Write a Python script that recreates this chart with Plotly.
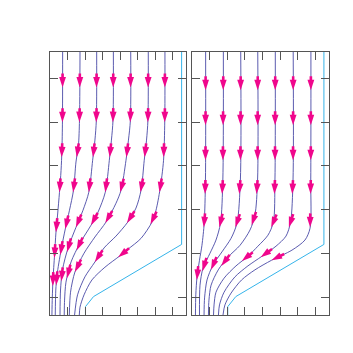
import numpy as np
import plotly.graph_objects as go

# streamlines, left panel (x, y in axis units, flow runs top -> bottom)
left_x = [
    [0.72, 0.71, 0.68, 0.63, 0.54, 0.43, 0.34, 0.26, 0.17, 0.13, 0.11],
    [1.71, 1.68, 1.62, 1.48, 1.34, 1.11, 0.88, 0.63, 0.40, 0.33, 0.30],
    [2.66, 2.64, 2.56, 2.43, 2.21, 1.88, 1.48, 1.03, 0.71, 0.60, 0.57],
    [3.61, 3.59, 3.50, 3.38, 3.15, 2.74, 2.34, 1.71, 1.20, 0.91, 0.83, 0.81],
    [4.60, 4.58, 4.47, 4.33, 4.05, 3.76, 3.19, 2.56, 1.94, 1.42, 1.17, 1.10],
    [5.60, 5.58, 5.50, 5.37, 5.19, 4.90, 4.43, 3.76, 3.08, 2.56, 1.99, 1.57, 1.40],
    [6.55, 6.54, 6.47, 6.27, 6.04, 5.81, 5.19, 4.44, 3.95, 3.13, 2.39, 1.94, 1.71, 1.67],
]
left_y = [
    [6.0, 4.44, 3.76, 3.30, 2.80, 2.28, 1.89, 1.37, 0.80, 0.39, 0.0],
    [6.0, 4.44, 3.87, 3.49, 2.85, 2.39, 1.98, 1.48, 0.91, 0.57, 0.0],
    [6.0, 4.44, 3.99, 3.53, 2.80, 2.39, 2.00, 1.53, 1.03, 0.57, 0.0],
    [6.0, 4.44, 3.99, 3.53, 2.80, 2.35, 2.05, 1.64, 1.21, 0.75, 0.34, 0.0],
    [6.0, 4.44, 3.99, 3.53, 2.85, 2.55, 2.12, 1.78, 1.41, 0.98, 0.52, 0.0],
    [6.0, 4.44, 3.99, 3.53, 2.85, 2.44, 2.12, 1.80, 1.53, 1.21, 0.87, 0.46, 0.0],
    [6.0, 4.44, 3.53, 2.87, 2.39, 2.12, 1.75, 1.50, 1.34, 1.09, 0.80, 0.46, 0.18, 0.0],
]

# streamlines, right panel
right_x = [
    [0.76, 0.75, 0.68, 0.55, 0.41, 0.27, 0.20, 0.18],
    [1.77, 1.74, 1.61, 1.35, 1.01, 0.61, 0.44, 0.41],
    [2.76, 2.74, 2.55, 2.21, 1.69, 1.18, 0.84, 0.70, 0.67],
    [3.73, 3.72, 3.57, 3.29, 2.72, 2.03, 1.48, 1.07, 0.95, 0.92],
    [4.73, 4.71, 4.62, 4.31, 3.74, 3.17, 2.49, 1.81, 1.35, 1.24, 1.21],
    [5.75, 5.74, 5.60, 5.34, 4.77, 3.97, 3.17, 2.43, 1.81, 1.55, 1.49],
    [6.76, 6.75, 6.71, 6.42, 5.68, 4.52, 3.57, 2.81, 2.21, 1.86, 1.75],
]
right_y = [
    [6.0, 3.08, 2.10, 1.59, 1.25, 0.87, 0.46, 0.0],
    [6.0, 3.08, 2.10, 1.71, 1.41, 1.07, 0.68, 0.0],
    [6.0, 3.08, 2.10, 1.75, 1.44, 1.14, 0.80, 0.39, 0.0],
    [6.0, 3.08, 2.28, 1.94, 1.59, 1.32, 1.03, 0.68, 0.34, 0.0],
    [6.0, 3.08, 2.12, 1.82, 1.57, 1.34, 1.12, 0.84, 0.52, 0.23, 0.0],
    [6.0, 3.08, 2.12, 1.80, 1.57, 1.34, 1.12, 0.87, 0.52, 0.23, 0.0],
    [6.0, 3.08, 1.98, 1.71, 1.48, 1.25, 1.03, 0.80, 0.50, 0.23, 0.0],
]

# boundary line (same in both panels)
edge_x = [7.50, 7.50, 2.48, 2.02, 2.02]
edge_y = [6.0, 1.61, 0.42, 0.19, 0.0]

# arrow tip heights along each streamline
left_arrow_y = [
    [5.19, 4.40, 3.60, 2.80, 1.89, 1.30, 0.66],
    [5.19, 4.40, 3.60, 2.80, 1.96, 1.37, 0.68],
    [5.19, 4.40, 3.60, 2.80, 2.00, 1.44, 0.77],
    [5.19, 4.40, 3.60, 2.80, 2.05, 1.48, 0.84],
    [5.19, 4.40, 3.60, 2.80, 2.10, 0.98],
    [5.19, 4.40, 3.60, 2.80, 2.10, 1.21],
    [5.19, 4.40, 3.60, 2.80, 2.07, 1.32],
]
right_arrow_y = [
    [5.13, 4.33, 3.53, 2.76, 2.00, 0.80],
    [5.13, 4.33, 3.53, 2.76, 2.00, 1.00],
    [5.13, 4.33, 3.53, 2.76, 2.00, 1.03],
    [5.13, 4.33, 3.53, 2.76, 2.05, 1.12],
    [5.13, 4.33, 3.53, 2.76, 2.00, 1.23],
    [5.13, 4.33, 3.53, 2.76, 2.00, 1.32],
    [5.13, 4.33, 3.53, 2.76, 2.00, 1.25],
]

LINE_COLOR = "#4848a6"
EDGE_COLOR = "#35b4ea"
ARROW_COLOR = "#f0068c"
AX_COLOR = "#555555"

# pixel scale of one axis unit (used only to orient arrows)
SX, SY = 17.55, 43.9
ARROW_LEN = 14.0
HEAD_LEN = 7.0


def arrow_parts(xs, ys, yt):
    """Tip position, shaft segment and screen angle of one arrow."""
    xs = np.asarray(xs)[::-1]
    ys = np.asarray(ys)[::-1]
    xt = np.interp(yt, ys, xs)
    yb = yt + 0.12
    xb = np.interp(yb, ys, xs)
    dx, dy = (xt - xb) * SX, (yt - yb) * SY
    n = np.hypot(dx, dy)
    ux, uy = dx / n, dy / n
    tail = (xt - ARROW_LEN * ux / SX, yt - ARROW_LEN * uy / SY)
    neck = (xt - HEAD_LEN * ux / SX, yt - HEAD_LEN * uy / SY)
    # marker angle: clockwise from "up" on screen
    angle = float(np.degrees(np.arctan2(ux, uy)))
    return (xt, yt), tail, neck, angle


fig = go.Figure()
panels = [
    (left_x, left_y, left_arrow_y, "x", "y"),
    (right_x, right_y, right_arrow_y, "x2", "y2"),
]
for xs_all, ys_all, arr_all, xr, yr in panels:
    shaft_x, shaft_y, tip_x, tip_y, angles = [], [], [], [], []
    for xs, ys, arr in zip(xs_all, ys_all, arr_all):
        fig.add_trace(go.Scatter(
            x=xs, y=ys, mode="lines", xaxis=xr, yaxis=yr,
            line=dict(color=LINE_COLOR, width=0.9, shape="spline", smoothing=0.8),
            hoverinfo="skip", showlegend=False,
        ))
        for yt in arr:
            tip, tail, neck, ang = arrow_parts(xs, ys, yt)
            shaft_x += [tail[0], neck[0], None]
            shaft_y += [tail[1], neck[1], None]
            tip_x.append(tip[0])
            tip_y.append(tip[1])
            angles.append(ang)
    fig.add_trace(go.Scatter(
        x=edge_x, y=edge_y, mode="lines", xaxis=xr, yaxis=yr,
        line=dict(color=EDGE_COLOR, width=1),
        hoverinfo="skip", showlegend=False,
    ))
    fig.add_trace(go.Scatter(
        x=shaft_x, y=shaft_y, mode="lines", xaxis=xr, yaxis=yr,
        line=dict(color=ARROW_COLOR, width=2.6),
        hoverinfo="skip", showlegend=False,
    ))
    fig.add_trace(go.Scatter(
        x=tip_x, y=tip_y, mode="markers", xaxis=xr, yaxis=yr,
        marker=dict(symbol="arrow", size=11, angle=angles,
                    color=ARROW_COLOR, line=dict(width=0)),
        hoverinfo="skip", showlegend=False,
    ))

axis_common = dict(
    showgrid=False, zeroline=False, showticklabels=False,
    ticks="inside", ticklen=8, tickcolor=AX_COLOR, tickwidth=1,
    showline=True, linecolor=AX_COLOR, linewidth=1, mirror="ticks",
)
xticks = [1, 2, 3, 4, 5, 6, 7]
yticks = [0.4, 1.4, 2.4, 3.4, 4.4, 5.4]

# the page body adds an 8px offset, so the canvas is 8px smaller
fig.update_layout(
    width=345, height=345,
    margin=dict(l=42, r=24, t=44, b=38, pad=0),
    paper_bgcolor="white", plot_bgcolor="white",
    xaxis=dict(domain=[0, 0.4875], range=[0, 7.75], tickvals=xticks, **axis_common),
    yaxis=dict(domain=[0, 1], range=[0, 6], tickvals=yticks, anchor="x", **axis_common),
    xaxis2=dict(domain=[0.51, 1], range=[0, 7.79], tickvals=xticks, anchor="y2", **axis_common),
    yaxis2=dict(domain=[0, 1], range=[0, 6], tickvals=yticks, anchor="x2", **axis_common),
)

fig.write_html("out.html")
